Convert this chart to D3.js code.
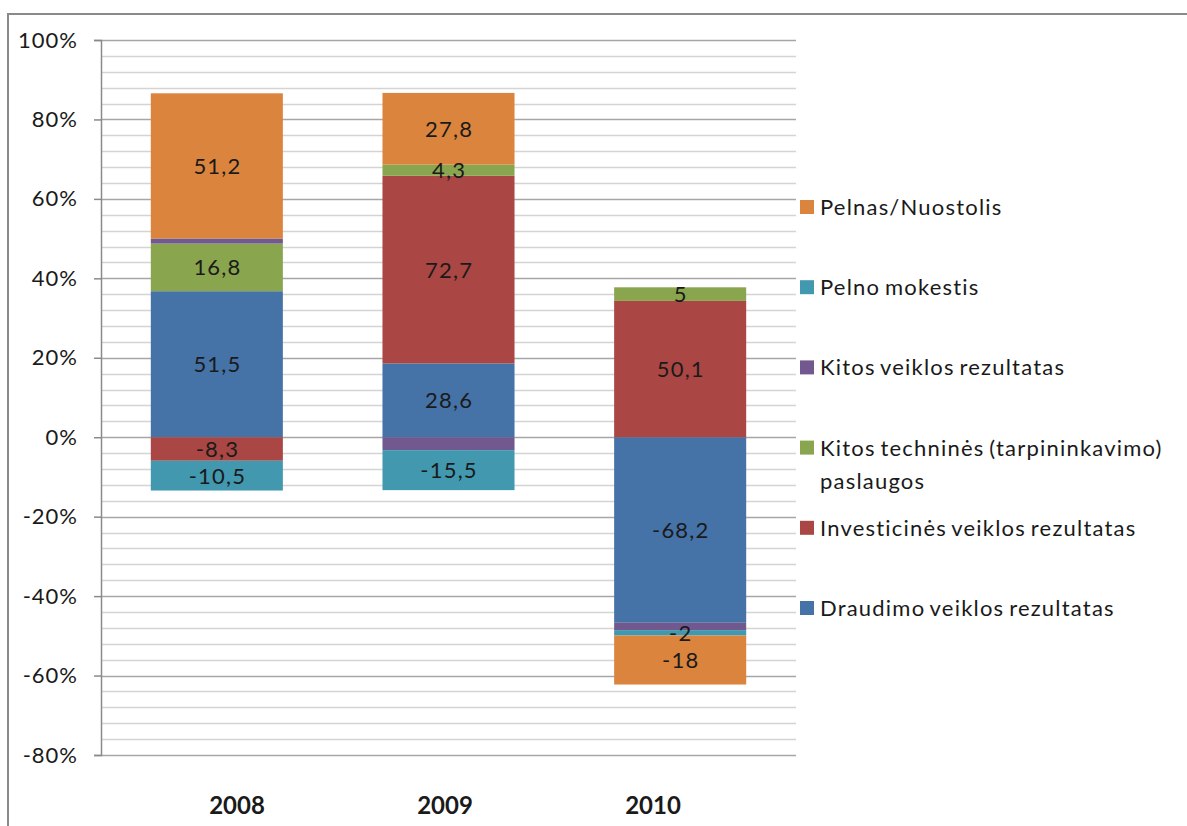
<!DOCTYPE html>
<html lang="lt">
<head>
<meta charset="UTF-8">
<title>Rezultatų struktūra</title>
<style>
  body { margin: 0; background: #fff; }
  svg text { font-family: Lato, "Open Sans", sans-serif; fill: #1a1a1a; }
</style>
</head>
<body>
<svg id="chart" width="1187" height="826"></svg>
<script src="https://d3js.org/d3.v7.min.js"></script>
<script>
// categories and series (order = Excel stacking order)
const years = ["2008", "2009", "2010"];
const seriesNames = [
  "Draudimo veiklos rezultatas",
  "Investicinės veiklos rezultatas",
  "Kitos techninės (tarpininkavimo) paslaugos",
  "Kitos veiklos rezultatas",
  "Pelno mokestis",
  "Pelnas/Nuostolis"
];
const draudimo = [51.5, 28.6, -68.2];
const investicines = [-8.3, 72.7, 50.1];
const technines = [16.8, 4.3, 5];
const kitosVeiklos = [1.8, -5, -2.7];       // not labelled
const pelnoMokestis = [-10.5, -15.5, -2];
const pelnas = [51.2, 27.8, -18];
const showLabel = [true, true, true, false, true, true];
const yTicks = [-80, -60, -40, -20, 0, 20, 40, 60, 80, 100];

const seriesValues = [draudimo, investicines, technines, kitosVeiklos, pelnoMokestis, pelnas];
const colors = ["#4572A7", "#AA4643", "#89A54E", "#71588F", "#4198AF", "#DB843D"];

const svg = d3.select("#chart");

// outer frame
svg.append("rect")
  .attr("x", 8).attr("y", 14)
  .attr("width", 1300).attr("height", 1000)
  .attr("fill", "none").attr("stroke", "#8a8a8a").attr("stroke-width", 2);

const plot = { left: 101, right: 796, top: 40, bottom: 755 };

const x = d3.scaleBand().domain(years).range([plot.left, plot.right]).paddingInner(0.43).paddingOuter(0.215);
const y = d3.scaleLinear().domain([-80, 100]).range([plot.bottom, plot.top]);
// category labels sit a little apart from the bar centres in the original
const xLabel = d3.scalePoint().domain(years).range([237, 653]);

// minor gridlines every 4%
const minor = d3.range(-80, 100.1, 4).filter(v => v % 20 !== 0);
svg.append("g").selectAll("line").data(minor).join("line")
  .attr("x1", plot.left).attr("x2", plot.right)
  .attr("y1", d => Math.round(y(d)) + 0.5).attr("y2", d => Math.round(y(d)) + 0.5)
  .attr("stroke", "#d4d4d4").attr("stroke-width", 1.5);

// major gridlines
svg.append("g").selectAll("line").data(yTicks).join("line")
  .attr("x1", plot.left).attr("x2", plot.right)
  .attr("y1", d => Math.round(y(d)) + 0.5).attr("y2", d => Math.round(y(d)) + 0.5)
  .attr("stroke", "#a6a6a6").attr("stroke-width", 1.5);

// y axis
const yAxis = svg.append("g")
  .attr("transform", `translate(${plot.left},0)`)
  .call(d3.axisLeft(y).tickValues(yTicks).tickSize(7).tickPadding(16).tickFormat(d => d + "%"));
yAxis.select(".domain").attr("stroke", "#8a8a8a").attr("stroke-width", 1.5);
yAxis.selectAll(".tick line").attr("stroke", "#8a8a8a").attr("stroke-width", 1.5);
yAxis.selectAll(".tick text").attr("font-size", 22).attr("font-family", "Lato, sans-serif")
  .attr("letter-spacing", 1).attr("fill", "#1a1a1a");

// year labels
svg.append("g").selectAll("text").data(years).join("text")
  .attr("x", d => xLabel(d))
  .attr("y", 814)
  .attr("text-anchor", "middle")
  .attr("font-size", 24).attr("font-weight", "bold")
  .text(d => d);

// 100% stacked: share = value / sum of absolute values
const segments = [];
years.forEach((yr, i) => {
  const total = d3.sum(seriesValues, s => Math.abs(s[i]));
  let pos = 0, neg = 0;
  seriesValues.forEach((s, k) => {
    const v = s[i] / total * 100;
    let y0, y1;
    if (v >= 0) { y0 = pos; y1 = pos + v; pos = y1; }
    else { y0 = neg; y1 = neg + v; neg = y1; }
    segments.push({ year: yr, k, value: s[i], y0, y1 });
  });
});

svg.append("g").selectAll("rect").data(segments).join("rect")
  .attr("x", d => x(d.year))
  .attr("width", x.bandwidth())
  .attr("y", d => y(Math.max(d.y0, d.y1)))
  .attr("height", d => Math.abs(y(d.y0) - y(d.y1)))
  .attr("fill", d => colors[d.k]);

svg.append("g").selectAll("text").data(segments.filter(d => showLabel[d.k])).join("text")
  .attr("x", d => x(d.year) + x.bandwidth() / 2 + 0.6)
  .attr("y", d => y((d.y0 + d.y1) / 2))
  .attr("dy", "0.36em")
  .attr("text-anchor", "middle")
  .attr("font-size", 22)
  .attr("letter-spacing", 1.2)
  .text(d => String(d.value).replace(".", ","));

// legend (reverse order)
const legendItems = seriesNames.map((n, k) => ({ name: n, k })).reverse();
const lg = svg.append("g").selectAll("g").data(legendItems).join("g")
  .attr("transform", (d, i) => `translate(800,${207 + i * 80.2})`);
lg.append("rect").attr("x", 0).attr("y", -7).attr("width", 14).attr("height", 14)
  .attr("fill", d => colors[d.k]);
lg.each(function(d) {
  const g = d3.select(this);
  const lines = d.k === 2 ? ["Kitos techninės (tarpininkavimo)", "paslaugos"] : [d.name];
  lines.forEach((t, j) => {
    g.append("text").attr("x", 20).attr("y", j * 33).attr("dy", "0.36em")
      .attr("font-size", 22).attr("letter-spacing", 1.2).attr("word-spacing", -2)
      .text(t);
  });
});
</script>
</body>
</html>
